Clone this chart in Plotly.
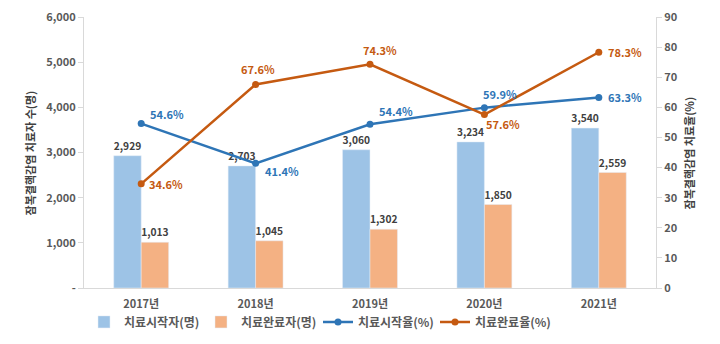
import plotly.graph_objects as go

years = ["2017년", "2018년", "2019년", "2020년", "2021년"]
started = [2929, 2703, 3060, 3234, 3540]
completed = [1013, 1045, 1302, 1850, 2559]
start_rate = [54.6, 41.4, 54.4, 59.9, 63.3]
complete_rate = [34.6, 67.6, 74.3, 57.6, 78.3]

left_ticks = [0, 1000, 2000, 3000, 4000, 5000, 6000]
left_ticktext = ["-", "1,000", "2,000", "3,000", "4,000", "5,000", "6,000"]
right_ticks = [0, 10, 20, 30, 40, 50, 60, 70, 80, 90]

FONT = "Noto Sans CJK KR"
BLUE_BAR = "#9DC3E6"
ORANGE_BAR = "#F4B183"
BLUE_LINE = "#2E75B6"
ORANGE_LINE = "#C55A11"
GREY = "#595959"

fig = go.Figure()
fig.add_trace(go.Bar(
    x=years, y=started, name="치료시작자(명)", marker_color=BLUE_BAR,
    text=[f"{v:,}" for v in started], textposition="outside",
    textfont=dict(family=FONT, size=11, color="#404040", weight="bold"),
    cliponaxis=False,
))
fig.add_trace(go.Bar(
    x=years, y=completed, name="치료완료자(명)", marker_color=ORANGE_BAR,
    text=[f"{v:,}" for v in completed], textposition="outside",
    textfont=dict(family=FONT, size=11, color="#404040", weight="bold"),
    cliponaxis=False,
))
fig.add_trace(go.Scatter(
    x=years, y=start_rate, name="치료시작율(%)", yaxis="y2", mode="lines+markers",
    line=dict(color=BLUE_LINE, width=2.5), marker=dict(size=7, color=BLUE_LINE),
    cliponaxis=False,
))
fig.add_trace(go.Scatter(
    x=years, y=complete_rate, name="치료완료율(%)", yaxis="y2", mode="lines+markers",
    line=dict(color=ORANGE_LINE, width=2.5), marker=dict(size=7, color=ORANGE_LINE),
    cliponaxis=False,
))

# label offsets (pixels) for line labels
start_off = [(26, -10), (26, 8), (26, -13), (16, -14), (26, 0)]
comp_off = [(25, 0), (2, -15), (10, -14), (19, 9), (26, 0)]
anns = []
for yr, v, (dx, dy) in zip(years, start_rate, start_off):
    anns.append(dict(x=yr, y=v, xref="x", yref="y2", text=f"{v}%", showarrow=False,
                     xshift=dx, yshift=-dy,
                     font=dict(family=FONT, size=11, color=BLUE_LINE, weight="bold")))
for yr, v, (dx, dy) in zip(years, complete_rate, comp_off):
    anns.append(dict(x=yr, y=v, xref="x", yref="y2", text=f"{v}%", showarrow=False,
                     xshift=dx, yshift=-dy,
                     font=dict(family=FONT, size=11, color=ORANGE_LINE, weight="bold")))
anns.append(dict(x=-0.112, y=0.5, xref="paper", yref="paper", text="잠복결핵감염 치료자 수(명)",
                 textangle=-90, showarrow=False,
                 font=dict(family=FONT, size=11, color="#404040", weight="bold")))
anns.append(dict(x=1.075, y=0.5, xref="paper", yref="paper", text="잠복결핵감염 치료율(%)",
                 textangle=-90, showarrow=False,
                 font=dict(family=FONT, size=11, color="#404040", weight="bold")))

fig.update_layout(
    width=720, height=344,
    margin=dict(l=84, r=64, t=8, b=55),
    paper_bgcolor="white", plot_bgcolor="white",
    barmode="group", bargap=0.52, bargroupgap=0,
    font=dict(family=FONT, size=11, color=GREY, weight="bold"),
    xaxis=dict(showline=True, linecolor="#d9d9d9", linewidth=1, ticks="",
               ticklabelstandoff=6, tickfont=dict(size=11, color=GREY, weight="bold")),
    yaxis=dict(range=[0, 6000], tickvals=left_ticks, ticktext=left_ticktext,
               showgrid=False, zeroline=False, showline=True, linecolor="#d9d9d9",
               ticks="outside", ticklen=5, tickcolor="#d9d9d9", ticklabeloverflow="allow",
               tickfont=dict(size=11, color=GREY, weight="bold")),
    yaxis2=dict(range=[0, 90], tickvals=right_ticks, overlaying="y", side="right",
                showgrid=False, zeroline=False, showline=True, linecolor="#d9d9d9",
                ticks="outside", ticklen=5, tickcolor="#d9d9d9", ticklabeloverflow="allow",
                tickfont=dict(size=11, color=GREY, weight="bold")),
    legend=dict(orientation="h", x=0.0, xanchor="left", y=-0.125, yanchor="middle",
                entrywidth=72, entrywidthmode="pixels", bgcolor="rgba(0,0,0,0)",
                font=dict(size=12, color=GREY, weight="bold"), traceorder="normal"),
    annotations=anns,
)

fig.write_html("out.html")
